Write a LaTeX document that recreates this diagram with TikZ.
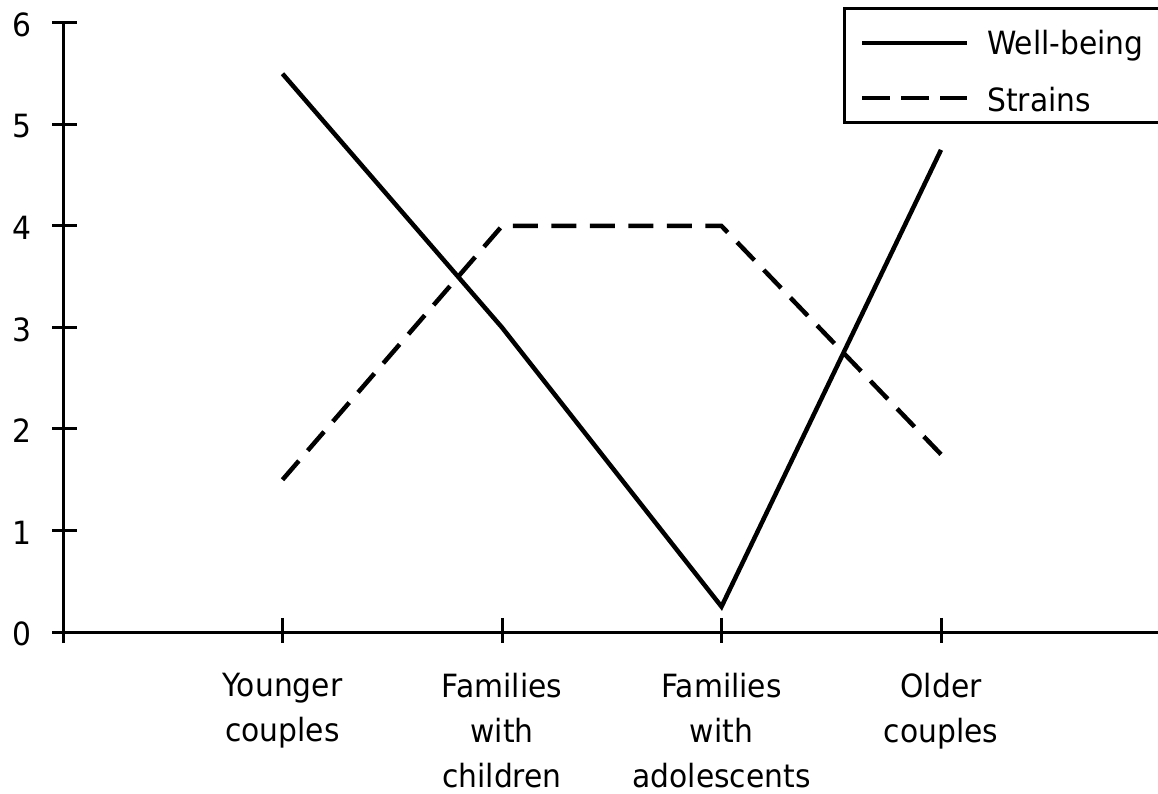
\documentclass[tikz,border=0pt]{standalone}
\usepackage{fontspec}
\setmainfont[FakeStretch=0.93]{DejaVu Sans}
\begin{document}
\begin{tikzpicture}[x=1pt,y=1pt,
  axis/.style={line width=3pt},
  series/.style={line width=4.5pt},
  strainline/.style={line width=4.5pt, dash pattern=on 25pt off 13.5pt},
  ylab/.style={anchor=east, inner sep=0pt, font=\fontsize{32}{36}\selectfont},
  xlab/.style={anchor=north, inner sep=0pt, align=center, font=\fontsize{32}{45}\selectfont},
  legtext/.style={anchor=base west, inner sep=0pt, font=\fontsize{32}{36}\selectfont},
  legbox/.style={line width=3pt}]
\useasboundingbox (0,0) rectangle (1158,793);
\clip (0,0) rectangle (1158,793);

% plot area: category i at 63+219.5i, value v at 161+101.5v
\begin{scope}[x=219.5pt, y=101.5pt, shift={(63pt,161pt)}]
  % axes
  \coordinate (o) at (0,0);
  \coordinate (ytop) at (0,6);
  \coordinate (xend) at (5,0);
  \draw[axis] (0,-0.11) -- (ytop);
  \draw[axis] (-0.05,0) -- (xend);
  % y ticks and labels
  \foreach \v in {0,...,6} {
    \draw[axis] (-0.05,\v) -- (0.064,\v);
    \node[ylab] (yl\v) at (-0.145,\v-0.02) {\v};
  }
  % x ticks
  \foreach \i in {1,...,5} {
    \draw[axis] (\i,0.14) -- (\i,-0.11);
  }
  % category labels
  \node[xlab] (c1) at (1,-0.40) {Younger\\couples};
  \node[xlab] (c2) at (2,-0.40) {Families\\with\\children};
  \node[xlab] (c3) at (3,-0.40) {Families\\with\\adolescents};
  \node[xlab] (c4) at (4,-0.40) {Older\\couples};

  % data points
  \coordinate (w1) at (1,5.5);
  \coordinate (w2) at (2,3);
  \coordinate (w3) at (3,0.25);
  \coordinate (w4) at (4,4.75);
  \coordinate (s1) at (1,1.5);
  \coordinate (s2) at (2,4);
  \coordinate (s3) at (3,4);
  \coordinate (s4) at (4,1.75);

  \draw[series] (w1) -- (w2) -- (w3) -- (w4);
  \draw[strainline] (s1) -- (s2) -- (s3) -- (s4);
\end{scope}

% legend
\draw[legbox] (844,784) rectangle (1170,670);
\coordinate (l1a) at (862,750);
\coordinate (l1b) at (967,750);
\coordinate (l2a) at (862,695);
\coordinate (l2b) at (967,695);
\draw[line width=4pt] (l1a) -- (l1b);
\draw[line width=4pt, dash pattern=on 28pt off 11pt] (l2a) -- (l2b);
\node[legtext] (lw) at (987,738) {Well-being};
\node[legtext] (ls) at (987,681) {Strains};
\end{tikzpicture}
\end{document}
